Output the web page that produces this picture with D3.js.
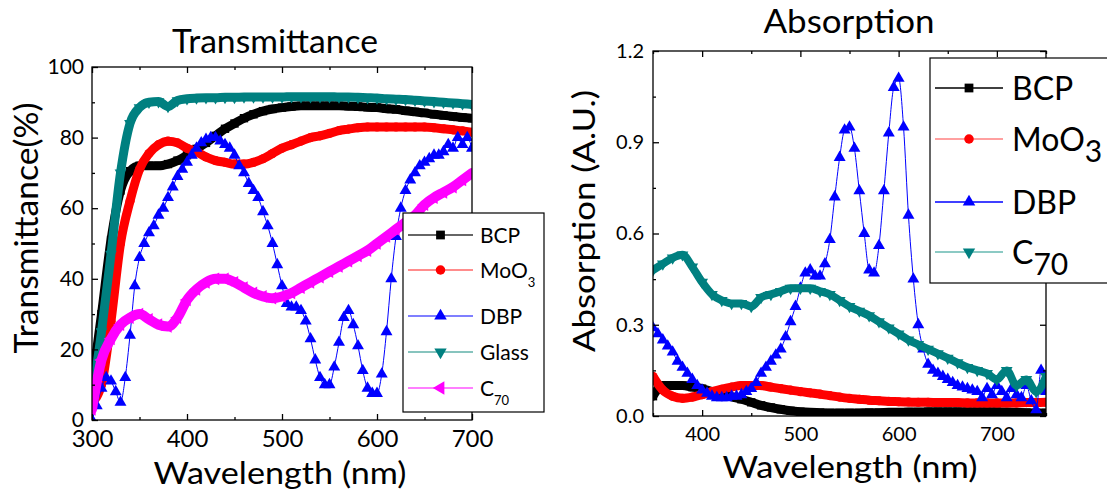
<!DOCTYPE html>
<meta charset="utf-8">
<script src="https://d3js.org/d3.v7.min.js"></script>
<style>
  body { margin: 0; background: #fff; }
  text { font-family: Lato, "Open Sans", sans-serif; fill: #000; }
</style>
<div id="chart"></div>
<script>
  // ---------- Transmittance panel data (wavelength nm, transmittance %)
  var transWave = [300, 310, 320, 330, 340, 350, 360, 370, 380, 390, 400, 410, 420, 430, 440, 450, 460, 470, 480, 490, 500,
    510, 520, 530, 540, 550, 560, 570, 580, 590, 600, 610, 620, 630, 640, 650, 660, 670, 680, 690, 700];
  var transBCP = [10, 30, 51, 65, 70.5, 72, 72, 72, 72.5, 73.5, 75, 76.8, 78.5, 80.5, 82.5, 84, 85.5, 86.6, 87.5, 88.1, 88.5,
    88.8, 89, 89, 89, 89, 89, 88.9, 88.8, 88.6, 88.5, 88.2, 88, 87.6, 87.3, 87, 86.6, 86.3, 86, 85.7, 85.5];
  var transMoO3 = [5, 10, 28, 50, 62, 71, 75.5, 78, 79, 78.5, 77, 76, 74.5, 73.5, 73, 72.5, 72.5, 73, 74, 75.5, 77,
    78, 79, 80, 80.5, 81.2, 82, 82.4, 82.8, 83, 83, 83, 83, 83, 83, 83, 82.8, 82.5, 82.2, 81.9, 81.5];
  var transGlass = [6, 25, 47, 70, 84, 88.5, 90, 90.2, 88.8, 90.5, 91, 91.2, 91.3, 91.3, 91.4, 91.4, 91.5, 91.5, 91.5, 91.5, 91.5,
    91.6, 91.6, 91.6, 91.6, 91.6, 91.5, 91.5, 91.4, 91.3, 91.2, 91, 90.9, 90.8, 90.6, 90.4, 90.2, 90, 89.8, 89.6, 89.4];
  var transC70 = [3, 17, 23, 27, 29, 30, 28.5, 27, 26.5, 29, 34, 37, 39, 40, 40, 39, 37.5, 36, 35, 34.5, 35,
    36, 37.5, 39, 40.5, 42, 43.5, 45, 46.5, 48, 50, 52, 54, 56, 58, 61, 63, 64.5, 66, 68, 70];
  var transWaveDBP = [300, 305, 310, 315, 320, 325, 330, 335, 340, 345, 350, 355, 360, 365, 370, 375, 380, 385, 390, 395, 400,
    405, 410, 415, 420, 425, 430, 435, 440, 445, 450, 455, 460, 465, 470, 475, 480, 485, 490, 495, 500,
    505, 510, 515, 520, 525, 530, 535, 540, 545, 550, 555, 560, 565, 570, 575, 580, 585, 590, 595, 600,
    605, 610, 615, 620, 625, 630, 635, 640, 645, 650, 655, 660, 665, 670, 675, 680, 685, 690, 695, 700];
  var transDBP = [0, 4, 9, 12, 11, 8, 5, 12, 24, 38, 46, 50, 53, 55, 58, 60, 63, 66, 69, 71, 73,
    75, 77, 78.5, 79.5, 80, 80, 79, 78, 77, 75, 72, 70, 67, 65, 63, 59, 55, 50, 44, 38,
    33, 32, 32, 31, 28, 23, 17, 12, 10, 10, 15, 22, 29, 31, 27, 21, 14, 9, 7.5, 7.5,
    13, 25, 40, 52, 60, 65, 68, 70, 72, 73, 74, 75, 75, 76, 78, 77, 80, 78, 80, 77];

  // ---------- Absorption panel data (wavelength nm, absorption A.U.)
  var absWave = [350, 360, 370, 380, 390, 400, 410, 420, 430, 440, 450, 460, 470, 480, 490, 500, 510, 520, 530, 540, 550,
    560, 570, 580, 590, 600, 610, 620, 630, 640, 650, 660, 670, 680, 690, 700, 710, 720, 730, 740, 750];
  var absBCP = [0.065, 0.1, 0.1, 0.1, 0.095, 0.09, 0.08, 0.072, 0.063, 0.055, 0.045, 0.035, 0.028, 0.022, 0.017, 0.014, 0.012, 0.011, 0.01, 0.01, 0.01,
    0.01, 0.011, 0.011, 0.012, 0.012, 0.013, 0.013, 0.014, 0.014, 0.014, 0.014, 0.014, 0.014, 0.014, 0.014, 0.013, 0.012, 0.011, 0.01, 0.01];
  var absMoO3 = [0.13, 0.085, 0.065, 0.058, 0.062, 0.07, 0.08, 0.088, 0.095, 0.1, 0.1, 0.1, 0.095, 0.09, 0.085, 0.08, 0.076, 0.072, 0.067, 0.062, 0.058,
    0.055, 0.052, 0.05, 0.048, 0.047, 0.046, 0.045, 0.045, 0.044, 0.044, 0.044, 0.043, 0.043, 0.043, 0.043, 0.043, 0.043, 0.044, 0.044, 0.045];
  var absC70 = [0.48, 0.5, 0.52, 0.53, 0.49, 0.44, 0.4, 0.38, 0.37, 0.37, 0.36, 0.39, 0.4, 0.41, 0.42, 0.42, 0.42, 0.41, 0.4, 0.38, 0.36,
    0.345, 0.33, 0.31, 0.29, 0.27, 0.25, 0.235, 0.22, 0.205, 0.19, 0.175, 0.16, 0.15, 0.14, 0.12, 0.15, 0.1, 0.12, 0.08, 0.13];
  var absWaveDBP = [350, 355, 360, 365, 370, 375, 380, 385, 390, 395, 400, 405, 410, 415, 420, 425, 430, 435, 440, 445, 450,
    455, 460, 465, 470, 475, 480, 485, 490, 495, 500, 505, 510, 515, 520, 525, 530, 535, 540, 545, 550,
    555, 560, 565, 570, 575, 580, 585, 590, 595, 600, 605, 610, 615, 620, 625, 630, 635, 640, 645, 650,
    655, 660, 665, 670, 675, 680, 685, 690, 695, 700, 705, 710, 715, 720, 725, 730, 735, 740, 745, 750];
  var absDBP = [0.29, 0.27, 0.25, 0.23, 0.21, 0.18, 0.16, 0.14, 0.12, 0.1, 0.085, 0.075, 0.065, 0.06, 0.06, 0.06, 0.065, 0.065, 0.07, 0.08, 0.09,
    0.11, 0.14, 0.16, 0.18, 0.2, 0.22, 0.26, 0.31, 0.36, 0.42, 0.47, 0.48, 0.46, 0.46, 0.5, 0.58, 0.72, 0.85, 0.94, 0.95,
    0.88, 0.74, 0.6, 0.48, 0.47, 0.56, 0.74, 0.93, 1.08, 1.11, 0.95, 0.66, 0.45, 0.3, 0.22, 0.17, 0.15, 0.14, 0.13, 0.12,
    0.11, 0.1, 0.095, 0.09, 0.085, 0.08, 0.06, 0.09, 0.07, 0.1, 0.08, 0.06, 0.09, 0.07, 0.06, 0.1, 0.05, 0.02, 0.15, 0.08];

  var svg = d3.select("#chart").append("svg")
    .attr("width", 1107)
    .attr("height", 492);
  svg.append("rect").attr("width", 1107).attr("height", 492).attr("fill", "#fff");

  // build one framed panel with inward ticks on the requested sides
  function panel(o) {
    var x = d3.scaleLinear().domain(o.xDomain).range([o.left, o.right]);
    var y = d3.scaleLinear().domain(o.yDomain).range([o.bottom, o.top]);
    var g = svg.append("g");

    var id = "clip" + o.name;
    svg.append("clipPath").attr("id", id).append("rect")
      .attr("x", o.left).attr("y", o.top)
      .attr("width", o.right - o.left).attr("height", o.bottom - o.top);
    var plot = g.append("g").attr("clip-path", "url(#" + id + ")");

    function ax(axis, vals, size, fmt, tx, ty, font, pad) {
      var a = g.append("g").attr("transform", "translate(" + tx + "," + ty + ")")
        .call(axis.tickValues(vals).tickSizeInner(-size).tickSizeOuter(0)
          .tickPadding(pad || 0).tickFormat(fmt || ""));
      a.select(".domain").remove();
      a.selectAll("line").attr("stroke", "#000").attr("stroke-width", 1.3);
      a.selectAll("text").style("font-size", font + "px").attr("fill", "#000").style("font-family", "Lato, sans-serif");
      return a;
    }
    // bottom
    ax(d3.axisBottom(x), o.xMajor, 6, o.xFmt, 0, o.bottom, o.xFont, o.xPad);
    ax(d3.axisBottom(x), o.xMinor, 3, null, 0, o.bottom, 10, 0);
    // top
    ax(d3.axisTop(x), o.xMajor, 6, null, 0, o.top, 10, 0);
    ax(d3.axisTop(x), o.xMinor, 3, null, 0, o.top, 10, 0);
    // left
    ax(d3.axisLeft(y), o.yMajor, 6, o.yFmt, o.left, 0, o.yFont, o.yPad);
    ax(d3.axisLeft(y), o.yMinor, 3, null, o.left, 0, 10, 0);
    if (o.rightTicks) {
      ax(d3.axisRight(y), o.yMajor, 6, null, o.right, 0, 10, 0);
      ax(d3.axisRight(y), o.yMinor, 3, null, o.right, 0, 10, 0);
    }
    g.append("rect")
      .attr("x", o.left).attr("y", o.top)
      .attr("width", o.right - o.left).attr("height", o.bottom - o.top)
      .attr("fill", "none").attr("stroke", "#000").attr("stroke-width", 1.3);

    return { x: x, y: y, g: g, plot: plot };
  }

  // one series: optional thick band + line + dense markers
  function series(p, xs, ys, s) {
    var pts = xs.map(function (d, i) { return [d, ys[i]]; });
    var line = d3.line()
      .x(function (d) { return p.x(d[0]); })
      .y(function (d) { return p.y(d[1]); })
      .curve(d3.curveMonotoneX);
    p.plot.append("path")
      .attr("d", line(pts))
      .attr("fill", "none")
      .attr("stroke", s.color)
      .attr("stroke-width", s.band || 1)
      .attr("stroke-linejoin", "round")
      .attr("stroke-linecap", "round");
    p.plot.append("g").selectAll("path")
      .data(pts)
      .enter()
      .append("path")
      .attr("transform", function (d) {
        return "translate(" + p.x(d[0]) + "," + p.y(d[1]) + ") rotate(" + (s.rot || 0) + ")";
      })
      .attr("d", d3.symbol().type(s.type).size(s.size))
      .attr("fill", s.color);
  }

  var sty = {
    BCP: { color: "#000", type: d3.symbolSquare, size: 70, band: 9 },
    MoO3: { color: "#ff0000", type: d3.symbolCircle, size: 65, band: 9 },
    DBP: { color: "#0000ff", type: d3.symbolTriangle, size: 62 },
    Glass: { color: "#008080", type: d3.symbolTriangle, size: 60, rot: 180, band: 9 },
    C70t: { color: "#ff00ff", type: d3.symbolTriangle, size: 70, rot: -90, band: 10 },
    C70a: { color: "#008080", type: d3.symbolTriangle, size: 60, rot: 180, band: 8 }
  };

  // text helper: fixed width to follow the reference lettering
  function label(txt, x, y, size, len, rot) {
    svg.append("text")
      .attr("transform", "translate(" + x + "," + y + ")" + (rot ? " rotate(-90)" : ""))
      .attr("text-anchor", "middle")
      .attr("textLength", len)
      .attr("lengthAdjust", "spacingAndGlyphs")
      .style("font-size", size + "px")
      .text(txt);
  }

  // ---------- left panel: Transmittance
  var pT = panel({
    name: "T", left: 92, right: 472, top: 67, bottom: 420,
    xDomain: [300, 700], yDomain: [0, 100],
    xMajor: [300, 400, 500, 600, 700], xMinor: [350, 450, 550, 650],
    yMajor: [0, 20, 40, 60, 80, 100], yMinor: [10, 30, 50, 70, 90],
    xFmt: d3.format("d"), yFmt: d3.format("d"),
    xFont: 24, yFont: 21, xPad: 10, yPad: 8
  });
  series(pT, transWave, transBCP, sty.BCP);
  series(pT, transWave, transMoO3, sty.MoO3);
  series(pT, transWaveDBP, transDBP, sty.DBP);
  series(pT, transWave, transGlass, sty.Glass);
  series(pT, transWave, transC70, sty.C70t);

  label("Transmittance", 275, 53, 32, 206);
  label("Transmittance(%)", 38, 228, 32, 251, true);
  label("Wavelength (nm)", 280, 484, 31, 253);

  // ---------- right panel: Absorption
  var pA = panel({
    name: "A", left: 653, right: 1046, top: 51, bottom: 416,
    xDomain: [350, 750], yDomain: [0, 1.2],
    xMajor: [400, 500, 600, 700], xMinor: [350, 450, 550, 650, 750],
    yMajor: [0, 0.3, 0.6, 0.9, 1.2], yMinor: [0.15, 0.45, 0.75, 1.05],
    xFmt: d3.format("d"), yFmt: d3.format(".1f"),
    xFont: 20, yFont: 20, xPad: 11, yPad: 9, rightTicks: true
  });
  series(pA, absWave, absBCP, sty.BCP);
  series(pA, absWave, absMoO3, sty.MoO3);
  series(pA, absWaveDBP, absDBP, sty.DBP);
  series(pA, absWave, absC70, sty.C70a);

  label("Absorption", 849, 33, 32, 171);
  label("Absorption (A.U.)", 595, 221, 31, 262, true);
  label("Wavelength (nm)", 850, 478, 31, 255);

  // ---------- legends
  function legend(box, rows) {
    svg.append("rect").attr("x", box.x).attr("y", box.y).attr("width", box.w).attr("height", box.h)
      .attr("fill", "#fff").attr("stroke", "#000").attr("stroke-width", 1.2);
    rows.forEach(function (r) {
      svg.append("line").attr("x1", box.lx1).attr("x2", box.lx2).attr("y1", r.y).attr("y2", r.y)
        .attr("stroke", r.line).attr("stroke-width", 1.5);
      svg.append("path")
        .attr("transform", "translate(" + ((box.lx1 + box.lx2) / 2) + "," + r.y + ") rotate(" + (r.s.rot || 0) + ")")
        .attr("d", d3.symbol().type(r.s.type).size(r.s.size * box.k))
        .attr("fill", r.s.color);
      var t = svg.append("text").attr("x", box.tx).attr("y", r.y).attr("dy", "0.36em")
        .style("font-size", box.font + "px");
      t.append("tspan").text(r.label);
      if (r.sub) {
        t.append("tspan").attr("dy", box.subDy).style("font-size", box.subFont + "px").text(r.sub);
      }
    });
  }

  legend({ x: 403, y: 213, w: 141, h: 199, lx1: 408, lx2: 473, tx: 480, font: 21, subFont: 13, subDy: 9, k: 1.1 }, [
    { y: 235, label: "BCP", s: sty.BCP, line: "#333" },
    { y: 270, label: "MoO", sub: "3", s: sty.MoO3, line: "#ff6666" },
    { y: 316, label: "DBP", s: sty.DBP, line: "#5555ff" },
    { y: 352, label: "Glass", s: sty.Glass, line: "#5fb0a8" },
    { y: 388, label: "C", sub: "70", s: sty.C70t, line: "#ff55ff" }
  ]);

  legend({ x: 930, y: 58, w: 190, h: 225, lx1: 935, lx2: 1003, tx: 1012, font: 32, subFont: 30, subDy: 11, k: 1.1 }, [
    { y: 88, label: "BCP", s: sty.BCP, line: "#000" },
    { y: 139, label: "MoO", sub: "3", s: sty.MoO3, line: "#ff8080" },
    { y: 202, label: "DBP", s: sty.DBP, line: "#0000ff" },
    { y: 252, label: "C", sub: "70", s: sty.C70a, line: "#66b8b0" }
  ]);
</script>
